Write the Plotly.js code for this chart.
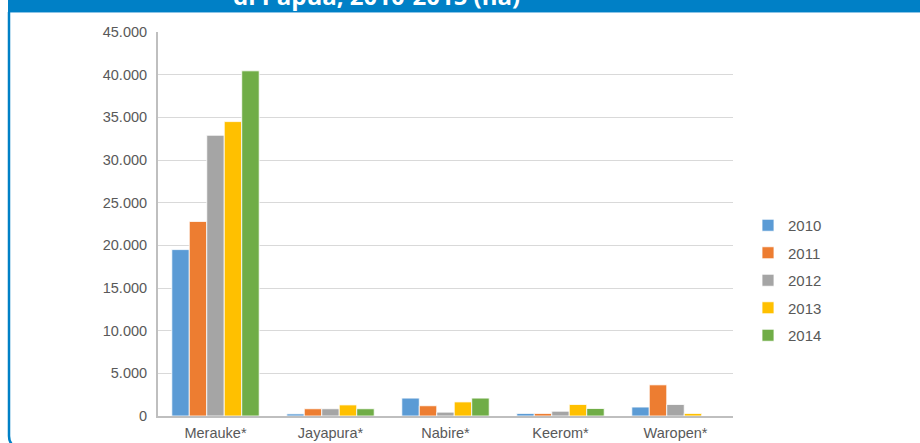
<!DOCTYPE html>
<html>
<head>
<meta charset="utf-8">
<script src="https://cdn.plot.ly/plotly-3.0.1.min.js"></script>
<style>html,body{margin:0;padding:0;background:#fff;}#chart{width:920px;height:443px;}</style>
</head>
<body>
<div id="chart"></div>
<script>
const categories = ["Merauke*", "Jayapura*", "Nabire*", "Keerom*", "Waropen*"];
const years = ["2010", "2011", "2012", "2013", "2014"];
const v2010 = [19500, 250, 2100, 300, 1050];
const v2011 = [22800, 850, 1200, 300, 3650];
const v2012 = [32900, 850, 450, 560, 1350];
const v2013 = [34500, 1300, 1650, 1350, 300];
const v2014 = [40450, 850, 2100, 880, 0];
const yTicks = [0, 5000, 10000, 15000, 20000, 25000, 30000, 35000, 40000, 45000];
const titleText = "di Papua, 2010-2015 (ha)";

const series = [v2010, v2011, v2012, v2013, v2014];
const colors = ["#5B9BD5", "#ED7D31", "#A5A5A5", "#FFC000", "#70AD47"];

// pixel -> paper helpers (plot area: x 158..733, y 32..416)
const L = 158, R = 733, T = 32, B = 416;
const px = x => (x - L) / (R - L);
const py = y => (B - y) / (B - T);

const traces = series.map((vals, i) => ({
  type: "bar",
  name: years[i],
  x: categories,
  y: vals,
  legendgroup: "g" + i,
  marker: { color: colors[i], line: { color: "rgba(255,255,255,0.8)", width: 1 } },
  hoverinfo: "none"
}));

const tickFont = { family: "Liberation Sans, Arial, sans-serif", size: 14.5, color: "#595959" };
const legendFont = { family: "Liberation Sans, Arial, sans-serif", size: 15, color: "#595959" };

const layout = {
  width: 920,
  height: 443,
  margin: { l: L, r: 920 - R, t: T, b: 443 - B },
  paper_bgcolor: "#ffffff",
  plot_bgcolor: "#ffffff",
  separators: ",.",
  barmode: "group",
  bargap: 0.24,
  bargroupgap: 0,
  showlegend: true,
  legend: {
    x: px(748), xanchor: "left",
    y: py(280.5), yanchor: "middle",
    font: legendFont,
    tracegroupgap: 5,
    bgcolor: "rgba(0,0,0,0)"
  },
  xaxis: {
    type: "category",
    showline: true, linecolor: "#BFBFBF", linewidth: 2,
    showgrid: false, zeroline: false,
    ticks: "", tickfont: tickFont,
    ticklabelstandoff: 3
  },
  yaxis: {
    range: [0, 45000],
    tickvals: yTicks,
    tickformat: ",d",
    showline: true, linecolor: "#BFBFBF", linewidth: 2,
    showgrid: true, gridcolor: "#D9D9D9", gridwidth: 1,
    zeroline: false,
    ticks: "", tickfont: tickFont,
    ticklabelstandoff: 6
  },
  shapes: [
    { type: "rect", xref: "paper", yref: "paper", x0: px(8), x1: px(921), y0: py(12), y1: py(-2),
      fillcolor: "#0080C6", line: { width: 0 }, layer: "above" },
    { type: "line", xref: "paper", yref: "paper", x0: px(8), x1: px(921), y0: py(12.5), y1: py(12.5),
      line: { color: "#8CC4E6", width: 1 }, layer: "above" },
    { type: "path", xref: "paper", yref: "paper",
      path: "M " + px(9) + "," + py(12) + " L " + px(9) + "," + py(436) + " Q " + px(9) + "," + py(443) + " " + px(14) + "," + py(446),
      line: { color: "#0080C6", width: 2.5 }, layer: "above" }
  ],
  annotations: [
    { text: "<b>" + titleText + "</b>", xref: "paper", yref: "paper",
      x: px(376), xanchor: "center", y: py(13.5), yanchor: "bottom",
      showarrow: false, font: { family: "Open Sans, sans-serif", size: 24, color: "#ffffff" } }
  ]
};

Plotly.newPlot("chart", traces, layout, { displayModeBar: false, staticPlot: true });
</script>
</body>
</html>
